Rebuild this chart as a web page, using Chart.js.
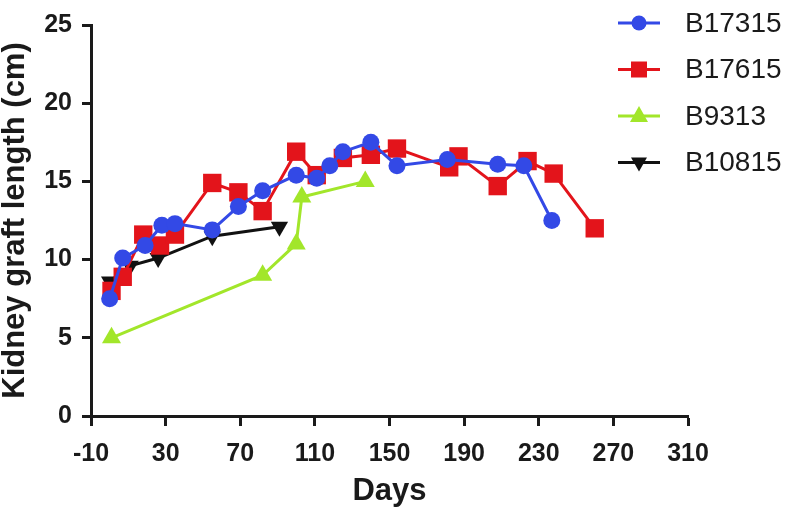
<!DOCTYPE html>
<html>
<head>
<meta charset="utf-8">
<script src="https://cdn.jsdelivr.net/npm/chart.js@4/dist/chart.umd.min.js"></script>
<style>
  html, body { margin: 0; padding: 0; background: #fff; }
  #wrap { width: 787px; height: 514px; }
</style>
</head>
<body>
<div id="wrap"><canvas id="graftChart" width="787" height="514"></canvas></div>
<script>
// values (days post transplant vs graft length in cm)
const seriesNames = ['B17315', 'B17615', 'B9313', 'B10815'];

const b17315Days = [0, 7, 19, 28, 35, 55, 69, 82, 100, 111, 118, 125, 140, 154, 181, 208, 222, 237];
const b17315Len  = [7.5, 10.1, 10.9, 12.2, 12.3, 11.9, 13.4, 14.4, 15.4, 15.2, 16.0, 16.9, 17.5, 16.0, 16.4, 16.1, 16.0, 12.5];

const b17615Days = [1, 7, 18, 27, 35, 55, 69, 82, 100, 111, 125, 140, 154, 182, 187, 208, 224, 238, 260];
const b17615Len  = [8.0, 8.9, 11.6, 10.9, 11.6, 14.9, 14.3, 13.1, 16.9, 15.4, 16.5, 16.7, 17.1, 15.9, 16.6, 14.7, 16.3, 15.5, 12.0];

const b9313Days = [1, 82, 100, 103, 137];
const b9313Len  = [5.0, 9.0, 11.0, 14.0, 15.0];

const b10815Days = [0, 11, 26, 55, 91];
const b10815Len  = [8.6, 9.6, 10.1, 11.5, 12.1];

const xTicks = [-10, 30, 70, 110, 150, 190, 230, 270, 310];
const yTicks = [0, 5, 10, 15, 20, 25];

const colors = ['#3349e6', '#e3141b', '#a2e62a', '#111111'];
const markers = ['circle', 'rect', 'triangle', 'triangleDown'];

function toPoints(days, vals) {
  return days.map((d, i) => ({ x: d, y: vals[i] }));
}

const seriesData = [
  toPoints(b17315Days, b17315Len),
  toPoints(b17615Days, b17615Len),
  toPoints(b9313Days, b9313Len),
  toPoints(b10815Days, b10815Len)
];

function styleFor(i) {
  const m = markers[i];
  if (m === 'circle') return { pointStyle: 'circle', pointRadius: 8.5, pointRotation: 0 };
  if (m === 'rect') return { pointStyle: 'rect', pointRadius: 13, pointRotation: 0 };
  if (m === 'triangle') return { pointStyle: 'triangle', pointRadius: 11, pointRotation: 0 };
  return { pointStyle: 'triangle', pointRadius: 10, pointRotation: 180 };
}

const datasets = seriesData.map((pts, i) => Object.assign({
  label: seriesNames[i],
  data: pts,
  borderColor: colors[i],
  backgroundColor: colors[i],
  pointBackgroundColor: colors[i],
  pointBorderColor: colors[i],
  pointBorderWidth: 0,
  borderWidth: 3,
  tension: 0,
  fill: false
}, styleFor(i)));

// draw legend marker by hand (line + symbol)
function drawMarker(ctx, kind, x, y, color) {
  ctx.fillStyle = color;
  ctx.beginPath();
  if (kind === 'circle') {
    ctx.arc(x, y, 7.5, 0, Math.PI * 2);
  } else if (kind === 'rect') {
    ctx.rect(x - 8, y - 8, 16, 16);
  } else if (kind === 'triangle') {
    ctx.moveTo(x, y - 10);
    ctx.lineTo(x + 9, y + 6);
    ctx.lineTo(x - 9, y + 6);
    ctx.closePath();
  } else {
    ctx.moveTo(x, y + 9);
    ctx.lineTo(x + 8, y - 5);
    ctx.lineTo(x - 8, y - 5);
    ctx.closePath();
  }
  ctx.fill();
}

const sideLegend = {
  id: 'sideLegend',
  afterDraw(chart) {
    const ctx = chart.ctx;
    ctx.save();
    chart.data.datasets.forEach((ds, i) => {
      const y = 23 + i * 46.5;
      ctx.strokeStyle = ds.borderColor;
      ctx.lineWidth = 3;
      ctx.beginPath();
      ctx.moveTo(618, y);
      ctx.lineTo(660, y);
      ctx.stroke();
      drawMarker(ctx, markers[i], 639, y, ds.borderColor);
      ctx.fillStyle = '#1a1a1a';
      ctx.font = '28px "Liberation Sans", Arial, sans-serif';
      ctx.textBaseline = 'middle';
      ctx.textAlign = 'left';
      ctx.fillText(ds.label, 685, y + 1);
    });
    ctx.restore();
  }
};

const tickFont = { family: '"Liberation Sans", Arial, sans-serif', size: 25, weight: 'bold' };

new Chart(document.getElementById('graftChart'), {
  type: 'line',
  data: { datasets },
  plugins: [sideLegend],
  options: {
    responsive: false,
    animation: false,
    layout: { padding: { top: 19, right: 99, left: 0, bottom: 0 } },
    plugins: {
      legend: { display: false },
      tooltip: { enabled: false }
    },
    scales: {
      x: {
        type: 'linear',
        min: -10,
        max: 310,
        afterBuildTicks: s => { s.ticks = xTicks.map(v => ({ value: v })); },
        afterFit: s => { s.height = 98; },
        ticks: { font: tickFont, color: '#1a1a1a', padding: 13, maxRotation: 0, autoSkip: false },
        grid: { display: true, drawOnChartArea: false, drawTicks: true, tickLength: 10, tickWidth: 3, tickColor: '#1a1a1a' },
        border: { display: true, width: 3, color: '#1a1a1a' },
        title: {
          display: true,
          text: 'Days',
          color: '#1a1a1a',
          font: { family: '"Liberation Sans", Arial, sans-serif', size: 31, weight: 'bold', lineHeight: 1.1 },
          padding: { top: 0, bottom: 5 }
        }
      },
      y: {
        type: 'linear',
        min: 0,
        max: 25,
        afterBuildTicks: s => { s.ticks = yTicks.map(v => ({ value: v })); },
        afterFit: s => { s.width = 91; },
        ticks: { font: tickFont, color: '#1a1a1a', padding: 10 },
        grid: { display: true, drawOnChartArea: false, drawTicks: true, tickLength: 9, tickWidth: 3, tickColor: '#1a1a1a' },
        border: { display: true, width: 3, color: '#1a1a1a' },
        title: {
          display: true,
          text: 'Kidney graft length (cm)',
          color: '#1a1a1a',
          font: { family: '"Liberation Sans", Arial, sans-serif', size: 31, weight: 'bold', lineHeight: 1.0 },
          padding: { top: 0, bottom: 0 }
        }
      }
    }
  }
});
</script>
</body>
</html>
